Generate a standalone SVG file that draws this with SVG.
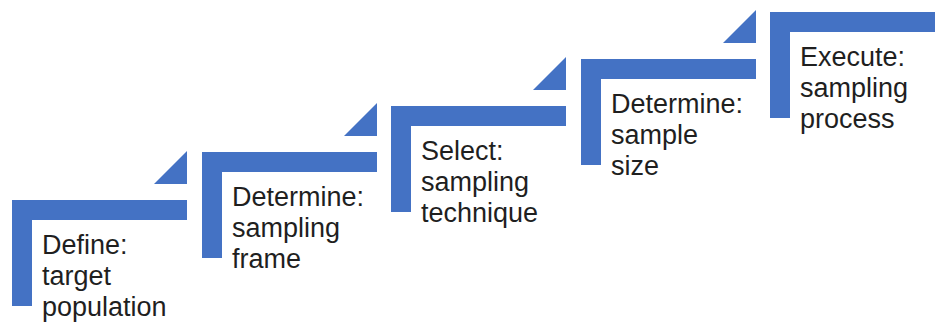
<svg xmlns="http://www.w3.org/2000/svg" width="935" height="323" viewBox="0 0 935 323">
  <style>
    .step { fill: #4472C4; }
    .label { font-family: "Liberation Sans", Arial, sans-serif; font-size: 27px; fill: #1f1f1f; }
  </style>
  <defs>
    <!-- one stair step: top bar, left leg and corner triangle; origin at bar top-left -->
    <g id="stair">
      <path class="step" d="M0,0 H175 V20 H20 V106 H0 Z"/>
      <polygon class="step" points="175,-16 142,-16 175,-49"/>
    </g>
  </defs>
  <rect width="935" height="323" fill="#ffffff"/>

  <g id="step1" transform="translate(12,200)">
    <use href="#stair"/>
    <text class="label" x="30" y="54">Define:</text>
    <text class="label" x="30" y="85">target</text>
    <text class="label" x="30" y="116">population</text>
  </g>

  <g id="step2" transform="translate(202,152)">
    <use href="#stair"/>
    <text class="label" x="30" y="54">Determine:</text>
    <text class="label" x="30" y="85">sampling</text>
    <text class="label" x="30" y="116">frame</text>
  </g>

  <g id="step3" transform="translate(391,106)">
    <use href="#stair"/>
    <text class="label" x="30" y="54">Select:</text>
    <text class="label" x="30" y="85">sampling</text>
    <text class="label" x="30" y="116">technique</text>
  </g>

  <g id="step4" transform="translate(581,59)">
    <use href="#stair"/>
    <text class="label" x="30" y="54">Determine:</text>
    <text class="label" x="30" y="85">sample</text>
    <text class="label" x="30" y="116">size</text>
  </g>

  <g id="step5" transform="translate(770,12)">
    <path class="step" d="M0,0 H170 V20 H20 V106 H0 Z"/>
    <text class="label" x="30" y="54">Execute:</text>
    <text class="label" x="30" y="85">sampling</text>
    <text class="label" x="30" y="116">process</text>
  </g>

  <g id="connectors"/>
</svg>
